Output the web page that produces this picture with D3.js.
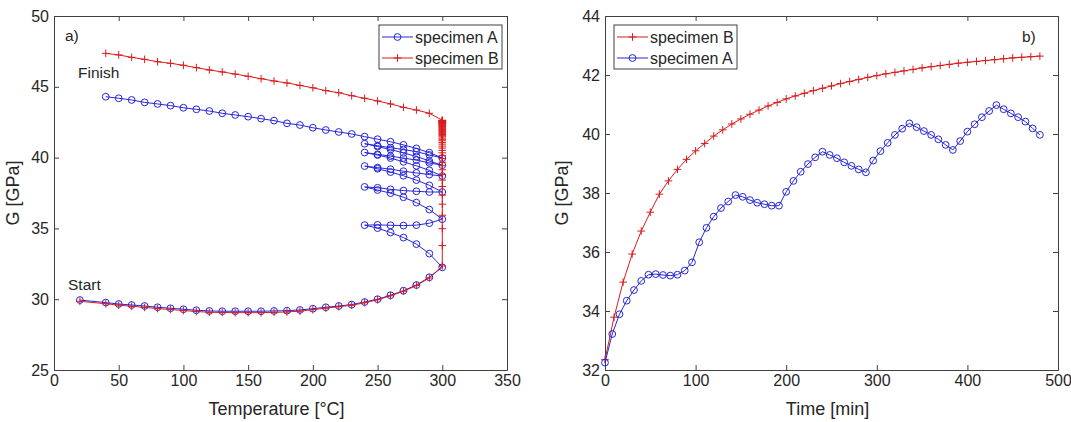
<!DOCTYPE html>
<html>
<head>
<meta charset="utf-8">
<script src="https://cdn.jsdelivr.net/npm/d3@7"></script>
<style>
  body { margin: 0; background: #fff; }
  svg { font-family: "Liberation Sans", Arial, sans-serif; }
  .axis text { font-size: 16px; fill: #262626; }
  .axis path, .axis line { stroke: #404040; }
</style>
</head>
<body>
<div id="chart"></div>
<script>
// ---- data ----

// heating ramp (both specimens), °C
var heatTemp = [20, 40, 50, 60, 70, 80, 90, 100, 110, 120, 130, 140, 150, 160, 170,
  180, 190, 200, 210, 220, 230, 240, 250, 260, 270, 280, 290];
var heatA = [29.94, 29.76, 29.66, 29.59, 29.52, 29.43, 29.36, 29.29, 29.22, 29.17, 29.15, 29.15, 29.15, 29.15, 29.17,
  29.19, 29.24, 29.33, 29.43, 29.52, 29.62, 29.8, 30.0, 30.28, 30.6, 31.0, 31.55];
var heatB = [29.85, 29.68, 29.58, 29.5, 29.42, 29.34, 29.27, 29.2, 29.13, 29.08, 29.06, 29.05, 29.05, 29.05, 29.07,
  29.1, 29.16, 29.26, 29.37, 29.47, 29.57, 29.75, 29.96, 30.24, 30.56, 30.97, 31.5];

// specimen A: thermal cycling 300 <-> 240 °C, sampled every 8 min
var timeA = [0, 8, 16, 24, 32, 40, 48, 56, 64, 72, 80, 88, 96, 104, 112, 120, 128, 136, 144, 152, 160,
  168, 176, 184, 192, 200, 208, 216, 224, 232, 240, 248, 256, 264, 272, 280, 288, 296, 304, 312, 320,
  328, 336, 344, 352, 360, 368, 376, 384, 392, 400, 408, 416, 424, 432, 440, 448, 456, 464, 472, 480];
var cycleTempA = [300,
  290, 280, 270, 260, 250, 240, 250, 260, 270, 280, 290, 300,
  290, 280, 270, 260, 250, 240, 250, 260, 270, 280, 290, 300,
  290, 280, 270, 260, 250, 240, 250, 260, 270, 280, 290, 300,
  290, 280, 270, 260, 250, 240, 250, 260, 270, 280, 290, 300,
  290, 280, 270, 260, 250, 240, 250, 260, 270, 280, 290, 300];
var cycleA = [32.25,
  33.22, 33.89, 34.35, 34.71, 35.02, 35.23, 35.25, 35.22, 35.2, 35.23, 35.37, 35.65,
  36.33, 36.82, 37.2, 37.49, 37.71, 37.93, 37.87, 37.76, 37.67, 37.62, 37.57, 37.57,
  38.04, 38.41, 38.72, 38.98, 39.21, 39.4, 39.29, 39.18, 39.04, 38.92, 38.8, 38.7,
  39.1, 39.42, 39.7, 39.97, 40.18, 40.36, 40.23, 40.1, 39.97, 39.82, 39.63, 39.46,
  39.76, 40.08, 40.33, 40.57, 40.78, 40.98, 40.84, 40.7, 40.57, 40.42, 40.19, 39.97];

// specimen B: isothermal hold at 300 °C, sampled every 10 min
var timeB = [0, 10, 20, 30, 40, 50, 60, 70, 80, 90, 100, 110, 120, 130, 140, 150, 160, 170, 180, 190,
  200, 210, 220, 230, 240, 250, 260, 270, 280, 290, 300, 310, 320, 330, 340, 350, 360, 370, 380, 390,
  400, 410, 420, 430, 440, 450, 460, 470, 480];
var holdB = [32.35, 33.79, 34.98, 35.93, 36.71, 37.35, 37.96, 38.41, 38.8, 39.14, 39.43, 39.68, 39.93, 40.14, 40.34,
  40.51, 40.67, 40.81, 40.95, 41.07, 41.19, 41.29, 41.38, 41.47, 41.55, 41.63, 41.71, 41.78, 41.85, 41.92,
  41.98, 42.04, 42.09, 42.14, 42.19, 42.24, 42.28, 42.32, 42.36, 42.4, 42.43, 42.46, 42.49, 42.52, 42.55,
  42.58, 42.6, 42.62, 42.64];
var holdTempB = 300;

// final cooling (both specimens)
var coolTemp = [290, 280, 270, 260, 250, 240, 230, 220, 210, 200, 190, 180, 170, 160, 150,
  140, 130, 120, 110, 100, 90, 80, 70, 60, 50, 40];
var coolA = [40.35, 40.65, 40.9, 41.12, 41.3, 41.48, 41.67, 41.81, 41.95, 42.11, 42.3, 42.42, 42.61, 42.75, 42.89,
  43.01, 43.13, 43.29, 43.41, 43.52, 43.67, 43.79, 43.9, 44.07, 44.19, 44.3];
var coolB = [43.13, 43.36, 43.55, 43.79, 44.0, 44.19, 44.37, 44.58, 44.73, 44.93, 45.1, 45.27, 45.41, 45.57, 45.74,
  45.9, 46.05, 46.19, 46.35, 46.52, 46.66, 46.77, 46.94, 47.08, 47.25, 47.36];

var xTicksA = [0, 50, 100, 150, 200, 250, 300, 350];
var yTicksA = [25, 30, 35, 40, 45, 50];
var xTicksB = [0, 100, 200, 300, 400, 500];
var yTicksB = [32, 34, 36, 38, 40, 42, 44];

var blue = "#2626d8";
var red = "#d81c1c";
var ink = "#262626";

/** build point lists for the two panels */
function zip(xs, ys) {
  return xs.map(function(x, i) { return {x: x, y: ys[i]}; });
}
var leftA = zip(heatTemp, heatA).concat(zip(cycleTempA, cycleA), zip(coolTemp, coolA));
var leftB = zip(heatTemp, heatB)
  .concat(holdB.map(function(g) { return {x: holdTempB, y: g}; }), zip(coolTemp, coolB));
var rightA = zip(timeA, cycleA);
var rightB = zip(timeB, holdB);

var svg = d3.select("#chart").append("svg")
  .attr("width", 1071)
  .attr("height", 422);

/** draw circle markers */
function circles(g, pts, x, y) {
  g.selectAll(null).data(pts).enter().append("circle")
    .attr("cx", function(d) { return x(d.x); })
    .attr("cy", function(d) { return y(d.y); })
    .attr("r", 3.4)
    .attr("fill", "none")
    .attr("stroke", blue)
    .attr("stroke-width", 1);
}

/** draw plus markers */
function pluses(g, pts, x, y) {
  var s = 3.8;
  g.selectAll(null).data(pts).enter().append("path")
    .attr("d", function(d) {
      var cx = x(d.x), cy = y(d.y);
      return "M" + (cx - s) + "," + cy + "H" + (cx + s) + "M" + cx + "," + (cy - s) + "V" + (cy + s);
    })
    .attr("stroke", red)
    .attr("stroke-width", 1);
}

function series(g, pts, x, y, color, marker) {
  var line = d3.line().x(function(d) { return x(d.x); }).y(function(d) { return y(d.y); });
  g.append("path").datum(pts)
    .attr("d", line)
    .attr("fill", "none")
    .attr("stroke", color)
    .attr("stroke-width", 1);
  if (marker === "o") circles(g, pts, x, y); else pluses(g, pts, x, y);
}

/** one MATLAB-like box axes */
function panel(opt) {
  var x = d3.scaleLinear().domain(opt.xd).range([opt.left, opt.right]);
  var y = d3.scaleLinear().domain(opt.yd).range([opt.bottom, opt.top]);
  var g = svg.append("g");

  g.append("g").attr("class", "axis")
    .attr("transform", "translate(0," + opt.bottom + ")")
    .call(d3.axisBottom(x).tickValues(opt.xt).tickSizeInner(-5).tickSizeOuter(0).tickPadding(5));
  g.append("g").attr("class", "axis")
    .attr("transform", "translate(0," + opt.top + ")")
    .call(d3.axisTop(x).tickValues(opt.xt).tickSizeInner(-5).tickSizeOuter(0).tickFormat(""));
  g.append("g").attr("class", "axis")
    .attr("transform", "translate(" + opt.left + ",0)")
    .call(d3.axisLeft(y).tickValues(opt.yt).tickSizeInner(-5).tickSizeOuter(0).tickPadding(5));
  g.append("g").attr("class", "axis")
    .attr("transform", "translate(" + opt.right + ",0)")
    .call(d3.axisRight(y).tickValues(opt.yt).tickSizeInner(-5).tickSizeOuter(0).tickFormat(""));

  g.append("text")
    .attr("x", (opt.left + opt.right) / 2 - 4)
    .attr("y", opt.bottom + 45)
    .attr("text-anchor", "middle")
    .style("font-size", "18px")
    .attr("fill", ink)
    .text(opt.xlabel);
  g.append("text")
    .attr("transform", "translate(" + opt.ylabelX + "," + (opt.top + opt.bottom) / 2 + ") rotate(-90)")
    .attr("text-anchor", "middle")
    .style("font-size", "18px")
    .attr("fill", ink)
    .text("G [GPa]");

  return {g: g, x: x, y: y};
}

/** legend box with line+marker samples */
function legend(items, x0, y0, w) {
  var g = svg.append("g");
  g.append("rect")
    .attr("x", x0).attr("y", y0)
    .attr("width", w).attr("height", 44)
    .attr("fill", "#fff")
    .attr("stroke", "#404040")
    .attr("stroke-width", 1);
  items.forEach(function(it, i) {
    var cy = y0 + 12 + i * 21;
    var x1 = x0 + 3, x2 = x0 + 34, cx = (x1 + x2) / 2;
    g.append("line")
      .attr("x1", x1).attr("x2", x2).attr("y1", cy).attr("y2", cy)
      .attr("stroke", it.color).attr("stroke-width", 1);
    if (it.marker === "o") {
      g.append("circle").attr("cx", cx).attr("cy", cy).attr("r", 3.4)
        .attr("fill", "none").attr("stroke", it.color);
    } else {
      g.append("path")
        .attr("d", "M" + (cx - 3.8) + "," + cy + "H" + (cx + 3.8) + "M" + cx + "," + (cy - 3.8) + "V" + (cy + 3.8))
        .attr("stroke", it.color);
    }
    g.append("text")
      .attr("x", x2 + 2).attr("y", cy + 5.5)
      .style("font-size", "16px")
      .attr("fill", ink)
      .text(it.label);
  });
}

function note(txt, x, y) {
  svg.append("text").attr("x", x).attr("y", y)
    .style("font-size", "15.5px").attr("fill", ink).text(txt);
}

// ---- panel a) G vs temperature ----
var pa = panel({xd: [0, 350], yd: [25, 50], left: 54, right: 507, top: 16, bottom: 370,
  xt: xTicksA, yt: yTicksA, xlabel: "Temperature [°C]", ylabelX: 19});
series(pa.g, leftA, pa.x, pa.y, blue, "o");
series(pa.g, leftB, pa.x, pa.y, red, "+");
note("a)", 65, 41);
note("Finish", 78, 78);
note("Start", 68, 290);
legend([{label: "specimen A", color: blue, marker: "o"},
        {label: "specimen B", color: red, marker: "+"}], 379, 25, 123);

// ---- panel b) G vs time ----
var pb = panel({xd: [0, 500], yd: [32, 44], left: 605, right: 1058, top: 16, bottom: 370,
  xt: xTicksB, yt: yTicksB, xlabel: "Time [min]", ylabelX: 568});
series(pb.g, rightB, pb.x, pb.y, red, "+");
series(pb.g, rightA, pb.x, pb.y, blue, "o");
note("b)", 1022, 42);
legend([{label: "specimen B", color: red, marker: "+"},
        {label: "specimen A", color: blue, marker: "o"}], 614, 25, 123);
</script>
</body>
</html>
